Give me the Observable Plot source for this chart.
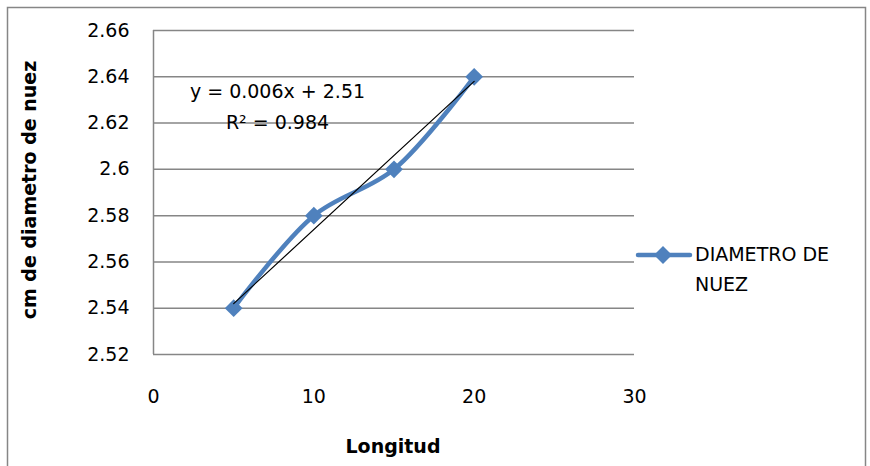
<!DOCTYPE html>
<html>
<head>
<meta charset="utf-8">
<script src="https://cdn.jsdelivr.net/npm/d3@7"></script>
<script src="https://cdn.jsdelivr.net/npm/@observablehq/plot@0.6"></script>
<style>
  html, body { margin: 0; padding: 0; background: #fff; }
  #chart { width: 870px; height: 466px; position: relative; overflow: hidden; }
</style>
</head>
<body>
<div id="chart"></div>
<script>
const longitud = [5, 10, 15, 20];
const diametro = [2.54, 2.58, 2.60, 2.64];
const yTicks = [2.52, 2.54, 2.56, 2.58, 2.60, 2.62, 2.64, 2.66];
const xTicks = [0, 10, 20, 30];
const seriesName = ["DIAMETRO DE", "NUEZ"];
const equation = ["y = 0.006x + 2.51", "R² = 0.984"];
const xLabel = "Longitud";
const yLabel = "cm de diametro de nuez";

const data = longitud.map((x, i) => ({x, y: diametro[i]}));
const FONT = "'DejaVu Sans', sans-serif";
const FS = 19;
const BLUE = "#4F81BD";
const GRID = "#868686";

const plot = Plot.plot({
  width: 870,
  height: 466,
  marginLeft: 153,
  marginRight: 236,
  marginTop: 30,
  marginBottom: 112,
  style: {fontFamily: FONT, fontSize: FS + "px", color: "#000", background: "#fff"},
  x: {domain: [0, 30], ticks: xTicks},
  y: {domain: [2.52, 2.66], ticks: yTicks},
  marks: [
    Plot.gridY(yTicks, {stroke: GRID, strokeOpacity: 1, strokeWidth: 1.5}),
    Plot.ruleX([0], {stroke: GRID, strokeWidth: 1.5}),
    Plot.axisY(yTicks, {tickSize: 0, tickPadding: 24, tickFormat: d => String(+d.toFixed(2)), label: null, fontSize: FS}),
    Plot.axisX(xTicks, {tickSize: 0, tickPadding: 35, label: null, fontSize: FS}),
    Plot.line(data, {x: "x", y: "y", stroke: BLUE, strokeWidth: 4.5, curve: "catmull-rom"}),
    Plot.dot(data, {x: "x", y: "y", symbol: "diamond2", r: 8, fill: BLUE, stroke: null}),
    Plot.linearRegressionY(data, {x: "x", y: "y", stroke: "#000", strokeWidth: 1.2, ci: 0}),
    Plot.text([equation[0]], {frameAnchor: "top-left", lineAnchor: "middle", text: d => d, fontSize: FS, textAnchor: "middle", dx: 124, dy: 61}),
    Plot.text([equation[1]], {frameAnchor: "top-left", lineAnchor: "middle", text: d => d, fontSize: FS, textAnchor: "middle", dx: 124, dy: 92})
  ]
});

const svg = d3.select(plot);
// outer chart border
svg.append("rect").attr("x", 7.5).attr("y", 7.5).attr("width", 858).attr("height", 480)
  .attr("fill", "none").attr("stroke", GRID).attr("stroke-width", 1.5);
// axis titles
svg.append("text").text(xLabel).attr("x", 393).attr("y", 447)
  .attr("text-anchor", "middle").attr("dominant-baseline", "middle")
  .attr("font-family", FONT).attr("font-weight", "bold").attr("font-size", FS);
svg.append("text").text(yLabel)
  .attr("transform", "translate(30,190) rotate(-90)")
  .attr("text-anchor", "middle").attr("dominant-baseline", "middle")
  .attr("font-family", FONT).attr("font-weight", "bold").attr("font-size", FS);
// legend
const lg = svg.append("g").attr("text-anchor", "start");
lg.append("line").attr("x1", 638).attr("x2", 690).attr("y1", 255).attr("y2", 255)
  .attr("stroke", BLUE).attr("stroke-width", 4.5).attr("stroke-linecap", "round");
lg.append("path").attr("d", "M663,246L672,255L663,264L654,255Z").attr("fill", BLUE);
seriesName.forEach((t, i) => {
  lg.append("text").text(t).attr("x", 695).attr("y", 255 + i * 30)
    .attr("text-anchor", "start")
    .attr("dominant-baseline", "middle").attr("font-family", FONT).attr("font-size", FS);
});

document.getElementById("chart").appendChild(plot);
</script>
</body>
</html>
